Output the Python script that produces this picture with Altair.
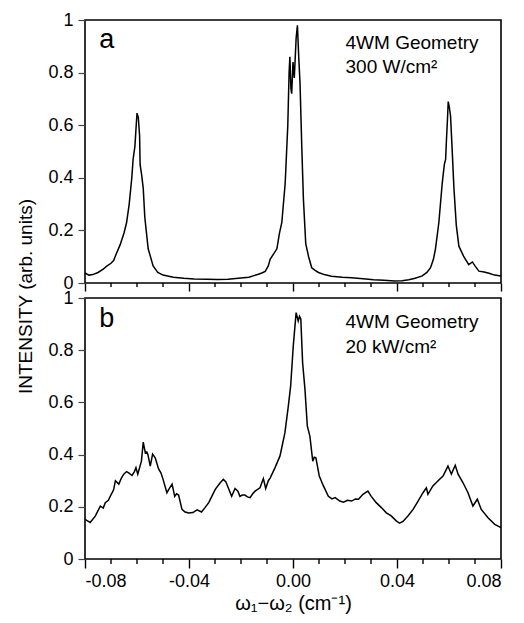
import altair as alt
import pandas as pd

# ---------------- data ----------------
top_x = [-0.0800, -0.0785, -0.0770, -0.0750, -0.0730, -0.0715, -0.0700, -0.0690, -0.0680, -0.0665,
         -0.0650, -0.0640, -0.0630, -0.0620, -0.0615, -0.0608, -0.0603, -0.0600, -0.0595, -0.0590,
         -0.0588, -0.0582, -0.0576, -0.0570, -0.0557, -0.0538, -0.0520, -0.0500, -0.0460, -0.0420,
         -0.0380, -0.0330, -0.0290, -0.0250, -0.0210, -0.0170, -0.0150, -0.0133, -0.0120, -0.0107,
         -0.0095, -0.0088, -0.0075, -0.0062, -0.0052, -0.0043, -0.0030, -0.0020, -0.0015, -0.0012,
         -0.0008, -0.0005, 0.0000, 0.0005, 0.0012, 0.0017, 0.0022, 0.0027, 0.0034, 0.0040,
         0.0049, 0.0060, 0.0072, 0.0085, 0.0098, 0.0120, 0.0148, 0.0190, 0.0225, 0.0270,
         0.0310, 0.0350, 0.0390, 0.0420, 0.0445, 0.0470, 0.0497, 0.0515, 0.0529, 0.0540,
         0.0548, 0.0561, 0.0574, 0.0582, 0.0587, 0.0590, 0.0594, 0.0597, 0.0601, 0.0606,
         0.0612, 0.0619, 0.0628, 0.0638, 0.0657, 0.0676, 0.0690, 0.0700, 0.0715, 0.0735,
         0.0754, 0.0775, 0.0800]
top_y = [0.038, 0.030, 0.032, 0.040, 0.053, 0.065, 0.075, 0.085, 0.110, 0.145,
         0.190, 0.230, 0.300, 0.400, 0.470, 0.520, 0.600, 0.646, 0.630, 0.560,
         0.450, 0.410, 0.360, 0.250, 0.130, 0.065, 0.040, 0.030, 0.022, 0.018,
         0.015, 0.014, 0.013, 0.014, 0.018, 0.022, 0.028, 0.033, 0.038, 0.044,
         0.065, 0.090, 0.110, 0.130, 0.190, 0.230, 0.380, 0.600, 0.800, 0.860,
         0.740, 0.720, 0.840, 0.780, 0.930, 0.980, 0.860, 0.760, 0.510, 0.320,
         0.150, 0.100, 0.058, 0.048, 0.040, 0.032, 0.026, 0.022, 0.020, 0.016,
         0.012, 0.010, 0.008, 0.009, 0.012, 0.018, 0.027, 0.040, 0.058, 0.090,
         0.130, 0.230, 0.380, 0.450, 0.470, 0.540, 0.620, 0.690, 0.670, 0.635,
         0.510, 0.360, 0.220, 0.140, 0.100, 0.070, 0.080, 0.065, 0.045, 0.042,
         0.037, 0.030, 0.027]

bot_x = [-0.0800, -0.0780, -0.0760, -0.0741, -0.0730, -0.0722, -0.0710, -0.0703, -0.0690, -0.0683,
         -0.0670, -0.0660, -0.0651, -0.0640, -0.0632, -0.0619, -0.0610, -0.0604, -0.0597, -0.0590,
         -0.0583, -0.0576, -0.0568, -0.0562, -0.0558, -0.0549, -0.0540, -0.0530, -0.0517, -0.0508,
         -0.0500, -0.0485, -0.0476, -0.0465, -0.0455, -0.0448, -0.0440, -0.0427, -0.0415, -0.0401,
         -0.0385, -0.0369, -0.0352, -0.0340, -0.0324, -0.0310, -0.0299, -0.0280, -0.0268, -0.0258,
         -0.0249, -0.0236, -0.0223, -0.0212, -0.0204, -0.0195, -0.0185, -0.0175, -0.0165, -0.0155,
         -0.0146, -0.0127, -0.0114, -0.0105, -0.0095, -0.0088, -0.0069, -0.0050, -0.0031, -0.0018,
         -0.0009, 0.0001, 0.0012, 0.0020, 0.0025, 0.0030, 0.0037, 0.0046, 0.0055, 0.0065,
         0.0076, 0.0082, 0.0088, 0.0101, 0.0117, 0.0136, 0.0150, 0.0162, 0.0180, 0.0194,
         0.0210, 0.0226, 0.0240, 0.0252, 0.0269, 0.0288, 0.0301, 0.0320, 0.0340, 0.0359,
         0.0378, 0.0397, 0.0410, 0.0423, 0.0442, 0.0462, 0.0481, 0.0500, 0.0513, 0.0519,
         0.0538, 0.0558, 0.0577, 0.0596, 0.0609, 0.0624, 0.0635, 0.0654, 0.0673, 0.0692,
         0.0709, 0.0724, 0.0750, 0.0776, 0.0800]
bot_y = [0.152, 0.140, 0.165, 0.203, 0.195, 0.216, 0.225, 0.240, 0.265, 0.300,
         0.287, 0.310, 0.325, 0.335, 0.330, 0.320, 0.335, 0.350, 0.325, 0.350,
         0.375, 0.448, 0.407, 0.410, 0.400, 0.356, 0.402, 0.388, 0.345, 0.330,
         0.306, 0.254, 0.270, 0.287, 0.240, 0.250, 0.245, 0.190, 0.180, 0.176,
         0.178, 0.188, 0.180, 0.195, 0.216, 0.245, 0.267, 0.292, 0.305, 0.295,
         0.273, 0.240, 0.270, 0.260, 0.240, 0.245, 0.245, 0.238, 0.235, 0.250,
         0.260, 0.273, 0.308, 0.270, 0.300, 0.310, 0.350, 0.395, 0.484, 0.586,
         0.663, 0.816, 0.944, 0.912, 0.930, 0.920, 0.752, 0.650, 0.510, 0.470,
         0.375, 0.390, 0.388, 0.318, 0.280, 0.240, 0.230, 0.235, 0.222, 0.218,
         0.225, 0.222, 0.230, 0.229, 0.248, 0.260, 0.240, 0.216, 0.197, 0.177,
         0.165, 0.146, 0.137, 0.144, 0.165, 0.190, 0.222, 0.254, 0.273, 0.248,
         0.280, 0.300, 0.318, 0.356, 0.325, 0.359, 0.325, 0.292, 0.254, 0.203,
         0.229, 0.190, 0.158, 0.133, 0.120]

x_major = [-0.08, -0.04, 0.0, 0.04, 0.08]
x_minor = [-0.07, -0.06, -0.05, -0.03, -0.02, -0.01,
           0.01, 0.02, 0.03, 0.05, 0.06, 0.07]
y_ticks = [0, 0.2, 0.4, 0.6, 0.8, 1]

letters = ["a", "b"]
letter_pos = [(-0.0745, 0.895), (-0.0745, 0.89)]
notes_top = ["4WM Geometry", "300 W/cm²"]
notes_bot = ["4WM Geometry", "20 kW/cm²"]
notes_top_y = [0.89, 0.80]
notes_bot_y = [0.885, 0.79]
notes_x = 0.0202

x_title = "ω₁−ω₂ (cm⁻¹)"
y_title = "INTENSITY (arb. units)"

FONT = "Liberation Sans"
W = 416
TICK = "black"


def panel(xs, ys, letter, lpos, notes, notes_y, bottom, height):
    xscale = alt.Scale(domain=[-0.08, 0.08], nice=False, zero=False)
    yscale = alt.Scale(domain=[0, 1], nice=False)
    if bottom:
        xaxis = alt.Axis(values=x_major, grid=False, domain=False, ticks=True, tickColor=TICK,
                         tickWidth=1.4, tickSize=9,
                         labelExpr="replace(format(datum.value, '.2f'), '\u2212', '-')",
                         labelFontSize=18, labelPadding=4, labelColor="black", labelFont=FONT,
                         title=x_title, titleFontSize=20, titleFontWeight="normal",
                         titlePadding=3, titleColor="black", titleFont=FONT)
        minor_len = 5
    else:
        xaxis = alt.Axis(values=x_major, grid=False, domain=False, ticks=True, tickColor=TICK,
                         tickWidth=1.4, tickSize=8, labels=False, title=None)
        minor_len = 4
    yargs = dict(values=y_ticks, grid=False, domain=False, ticks=True, tickColor="#444", tickSize=7,
                 tickWidth=1.2,
                 labelExpr="datum.value == 0 ? '0' : datum.value == 1 ? '1' : format(datum.value, '.1f')",
                 labelFontSize=18, labelPadding=5, labelColor="black", labelFont=FONT)
    if bottom:
        yaxis = alt.Axis(title=None, **yargs)
    else:
        yaxis = alt.Axis(title=y_title, titleFontSize=19, titleFontWeight="normal",
                         titleColor="black", titleFont=FONT, titlePadding=12,
                         titleY=height + 13, **yargs)
    xe = alt.X("x:Q", scale=xscale, axis=xaxis)
    ye = alt.Y("y:Q", scale=yscale, axis=yaxis)

    df = pd.DataFrame({"x": xs, "y": ys})
    line = alt.Chart(df).mark_line(color="black", strokeWidth=1.5).encode(x=xe, y=ye)

    mdf = pd.DataFrame({"x": x_minor})
    minor = alt.Chart(mdf).mark_rule(color=TICK, strokeWidth=1.4).encode(
        x=xe, y=alt.value(height), y2=alt.value(height + minor_len))

    ldf = pd.DataFrame({"x": [lpos[0]], "y": [lpos[1]], "t": [letter]})
    let = alt.Chart(ldf).mark_text(align="left", baseline="alphabetic", fontSize=27,
                                   font=FONT, color="black").encode(x=xe, y=ye, text="t:N")

    ndf = pd.DataFrame({"x": [notes_x, notes_x], "y": notes_y, "t": notes})
    nt = alt.Chart(ndf).mark_text(align="left", baseline="alphabetic", fontSize=19,
                                  font=FONT, color="black").encode(x=xe, y=ye, text="t:N")
    return alt.layer(line, minor, let, nt).properties(width=W, height=height)


top = panel(top_x, top_y, letters[0], letter_pos[0], notes_top, notes_top_y, False, 263)
bot = panel(bot_x, bot_y, letters[1], letter_pos[1], notes_bot, notes_bot_y, True, 261)

chart = alt.vconcat(top, bot, spacing=15).properties(
    bounds="flush",
    padding={"left": 8, "top": 2, "right": 5, "bottom": 2},
).configure(font=FONT).configure_view(stroke="black", strokeWidth=1.6)

chart.save("out.html", embed_options={"renderer": "svg", "actions": False})
